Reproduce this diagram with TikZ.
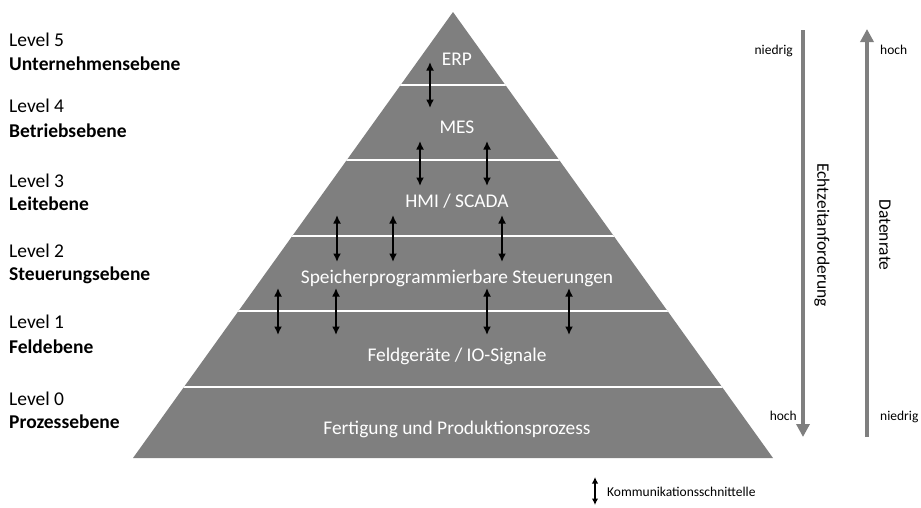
\documentclass[tikz,border=0pt]{standalone}
\usepackage{fontspec}
\setmainfont{Carlito}
\usetikzlibrary{arrows.meta}
\definecolor{pyr}{RGB}{127,127,127}
\tikzset{
  lvl/.style={anchor=base west, inner sep=0pt, font=\fontsize{19.5}{22}\selectfont},
  lvlb/.style={lvl, font=\fontsize{19.5}{22}\selectfont\bfseries},
  band/.style={anchor=base, inner sep=0pt, text=white, font=\fontsize{19.4}{22}\selectfont},
  comm/.style={line width=2.6pt, {Latex[length=8.5pt,width=8pt]}-{Latex[length=8.5pt,width=8pt]}},
  legarrow/.style={line width=2.2pt, {Latex[length=6.5pt,width=6.5pt]}-{Latex[length=6.5pt,width=6.5pt]}},
  scalearrow/.style={draw=pyr, line width=4pt, -{Triangle[length=13pt,width=13pt]}},
  smalltext/.style={inner sep=0pt, font=\fontsize{13.5}{16}\selectfont},
  verttext/.style={inner sep=0pt, rotate=-90, font=\fontsize{17.5}{20}\selectfont},
}
\begin{document}
\begin{tikzpicture}[x=1pt,y=-1pt]
\useasboundingbox (0,0) rectangle (921,507);
% pyramid
\coordinate (apex) at (453,12);
\coordinate (bl) at (133,458);
\coordinate (br) at (773,458);
\fill[pyr] (apex) -- (br) -- (bl) -- cycle;
\begin{scope}
  \clip (apex) -- (br) -- (bl) -- cycle;
  \foreach \y in {85,160,236,311,387}
    \draw[white, line width=2.6pt] (100,\y) -- (800,\y);
\end{scope}
% band labels
\node[band] (erp) at (457,65) {ERP};
\node[band] (mes) at (457,133) {MES};
\node[band] (hmi) at (457,207) {HMI / SCADA};
\node[band] (sps) at (457,283) {Speicherprogrammierbare Steuerungen};
\node[band] (feld) at (457,361) {Feldgeräte / IO-Signale};
\node[band] (fert) at (457,434) {Fertigung und Produktionsprozess};
% communication arrows
\foreach \x/\a/\b [count=\i] in {430/62/108, 420/141/186, 487/141/186,
   337/215/262, 393/215/262, 502/215/262,
   278/288/335, 336/288/335, 487/288/335, 569/288/335}{
  \coordinate (c\i a) at (\x,\a);
  \coordinate (c\i b) at (\x,\b);
  \draw[comm] (c\i a) -- (c\i b);
}
% left labels
\node[lvl]  (l5)  at (9,46)  {Level 5};
\node[lvlb] (l5b) at (9,70)  {Unternehmensebene};
\node[lvl]  (l4)  at (9,112) {Level 4};
\node[lvlb] (l4b) at (9,137) {Betriebsebene};
\node[lvl]  (l3)  at (9,187) {Level 3};
\node[lvlb] (l3b) at (9,210) {Leitebene};
\node[lvl]  (l2)  at (9,257) {Level 2};
\node[lvlb] (l2b) at (9,280) {Steuerungsebene};
\node[lvl]  (l1)  at (9,328) {Level 1};
\node[lvlb] (l1b) at (9,353) {Feldebene};
\node[lvl]  (l0)  at (9,405) {Level 0};
\node[lvlb] (l0b) at (9,428) {Prozessebene};
% right scale arrows
\coordinate (et) at (803,30);
\coordinate (eb) at (803,437);
\coordinate (dt) at (867,29);
\coordinate (db) at (867,437);
\draw[scalearrow] (et) -- (eb);
\draw[scalearrow] (db) -- (dt);
\node[smalltext, anchor=base east] (n1) at (793,54) {niedrig};
\node[smalltext, anchor=base west] (h1) at (880,54) {hoch};
\node[smalltext, anchor=base east] (h2) at (797,420) {hoch};
\node[smalltext, anchor=base west] (n2) at (880,420) {niedrig};
\node[verttext] (echt) at (822,235) {Echtzeitanforderung};
\node[verttext] (dr) at (885,235) {Datenrate};
% legend
\coordinate (la) at (595,477);
\coordinate (lb) at (595,505);
\draw[legarrow] (la) -- (lb);
\node[smalltext, anchor=base west] (leg) at (607,496) {Kommunikationsschnittelle};
\end{tikzpicture}
\end{document}
